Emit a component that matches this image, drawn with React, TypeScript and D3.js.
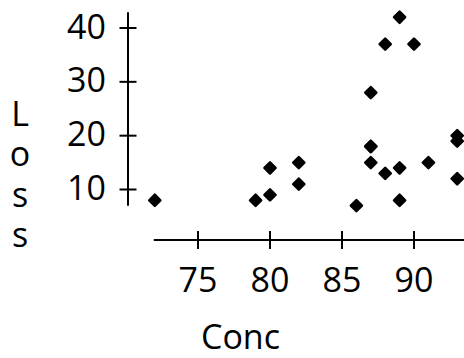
import React from "react";
import * as d3 from "d3";

const conc = [89, 88, 90, 87, 87, 87, 93, 93, 87, 80, 89, 88, 82, 93, 89, 86, 72, 79, 80, 82, 91];
const loss = [42, 37, 37, 28, 18, 18, 19, 20, 15, 14, 14, 13, 11, 12, 8, 7, 8, 8, 9, 15, 15];
const xTicks = [75, 80, 85, 90];
const yTicks = [10, 20, 30, 40];
const xLabel = "Conc";
const yLabel = "Loss";

const W = 464;
const H = 358;
const FONT = "'Open Sans', 'Noto Sans', sans-serif";
const FS = 34;

export default function App() {
  const x = d3.scaleLinear().domain([75, 90]).range([198, 414]);
  const y = d3.scaleLinear().domain([10, 40]).range([189.5, 28]);
  const xMin = d3.min(conc) as number;
  const xMax = d3.max(conc) as number;
  const yMin = d3.min(loss) as number;
  const yMax = d3.max(loss) as number;
  const axisX = 128;
  const axisY = 240;
  const sym = d3.symbol().type(d3.symbolSquare).size(62)();
  const data = conc.map((c, i) => ({ c, l: loss[i] }));

  return (
    <svg
      width={W}
      height={H}
      style={{ position: "absolute", left: 0, top: 0, background: "#fff" }}
    >
      {/* y axis */}
      <line x1={axisX} x2={axisX} y1={y(yMax) - 5} y2={y(yMin)} stroke="#000" strokeWidth={2} />
      {yTicks.map((t) => (
        <g key={"y" + t}>
          <line x1={axisX - 8.5} x2={axisX + 8.5} y1={y(t)} y2={y(t)} stroke="#000" strokeWidth={2} />
          <text
            x={axisX - 22}
            y={y(t) + 10.5}
            textAnchor="end"
            fontFamily={FONT}
            fontSize={FS}
            fill="#000"
          >
            {t}
          </text>
        </g>
      ))}
      {/* x axis */}
      <line x1={x(xMin) - 1} x2={x(xMax) + 8} y1={axisY} y2={axisY} stroke="#000" strokeWidth={2} />
      {xTicks.map((t) => (
        <g key={"x" + t}>
          <line x1={x(t)} x2={x(t)} y1={axisY - 9} y2={axisY + 9} stroke="#000" strokeWidth={2} />
          <text
            x={x(t)}
            y={292}
            textAnchor="middle"
            fontFamily={FONT}
            fontSize={FS}
            fill="#000"
          >
            {t}
          </text>
        </g>
      ))}
      <text x={240.5} y={349} textAnchor="middle" fontFamily={FONT} fontSize={FS} fill="#000">
        {xLabel}
      </text>
      {yLabel.split("").map((ch, i) => (
        <text
          key={"yl" + i}
          x={20}
          y={126 + i * 40.3}
          textAnchor="middle"
          fontFamily={FONT}
          fontSize={FS}
          fill="#000"
        >
          {ch}
        </text>
      ))}
      {/* points */}
      {data.map((d, i) => (
        <path
          key={"p" + i}
          d={sym as string}
          transform={`translate(${x(d.c)},${y(d.l)}) rotate(45)`}
          fill="#000"
          stroke="#000"
          strokeWidth={2.5}
          strokeLinejoin="round"
        />
      ))}
    </svg>
  );
}
